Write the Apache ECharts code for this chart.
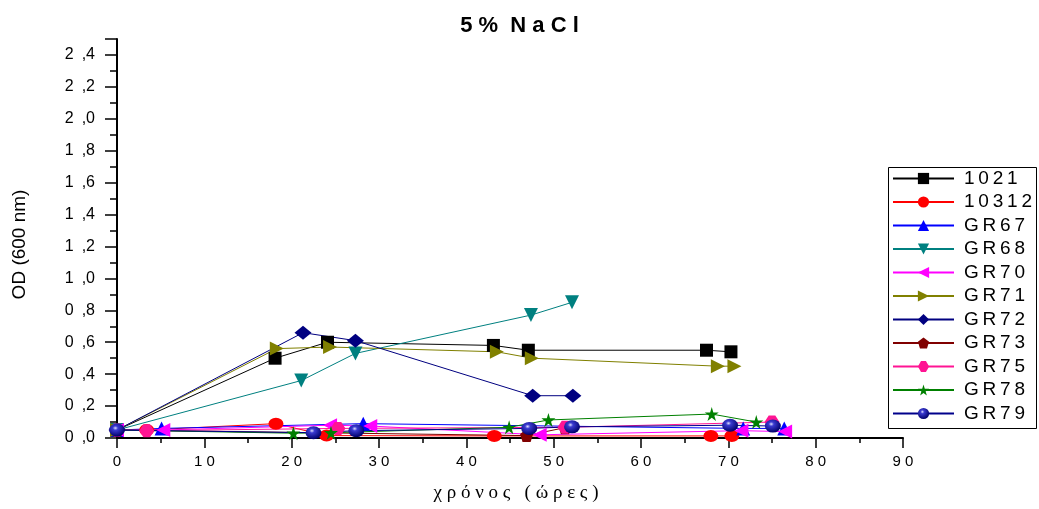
<!DOCTYPE html>
<html>
<head>
<meta charset="utf-8">
<script src="https://cdn.jsdelivr.net/npm/echarts@6/dist/echarts.min.js"></script>
<style>
html,body{margin:0;padding:0;background:#fff;}
#c{width:1039px;height:509px;}
</style>
</head>
<body>
<div id="c"></div>
<script>
// ---- data (time in hours, OD 600 nm) ----
const seriesNames = ['1021','10312','GR67','GR68','GR70','GR71','GR72','GR73','GR75','GR78','GR79'];
const d1021  = [[0,0.05],[18.1,0.50],[24.1,0.60],[43.1,0.58],[47.1,0.55],[67.5,0.55],[70.3,0.54]];
const d10312 = [[0,0.05],[3.4,0.05],[18.2,0.09],[24.0,0.015],[43.2,0.013],[68.0,0.013],[70.4,0.013]];
const dGR67  = [[0,0.05],[5.1,0.06],[28.2,0.09],[71.7,0.06],[76.4,0.06]];
const dGR68  = [[0,0.05],[21.1,0.36],[27.3,0.53],[47.4,0.77],[52.1,0.85]];
const dGR70  = [[0,0.05],[5.3,0.05],[24.4,0.08],[29.0,0.075],[48.4,0.02],[71.5,0.046],[76.5,0.04]];
const dGR71  = [[0,0.05],[18.3,0.56],[24.4,0.57],[43.5,0.54],[47.5,0.50],[68.8,0.45],[70.7,0.45]];
const dGR72  = [[0,0.05],[21.3,0.66],[27.3,0.61],[47.6,0.265],[52.2,0.265]];
const dGR73  = [[0,0.05],[46.9,0.015],[51.3,0.065]];
const dGR75  = [[0,0.05],[3.4,0.046],[25.3,0.06],[51.3,0.067],[75.0,0.10]];
const dGR78  = [[0,0.05],[20.2,0.03],[24.5,0.033],[44.9,0.067],[49.4,0.113],[68.1,0.15],[73.2,0.10]];
const dGR79  = [[0,0.05],[22.5,0.033],[27.4,0.046],[47.2,0.06],[52.1,0.07],[70.2,0.08],[75.1,0.075]];
const seriesData = [d1021,d10312,dGR67,dGR68,dGR70,dGR71,dGR72,dGR73,dGR75,dGR78,dGR79];

const titleText = '5% NaCl';
const xName = 'χρόνος (ώρες)';
const yName = 'OD (600 nm)';

// ---- styles ----
const FONT = '"Liberation Sans", Arial, sans-serif';
const spaced = s => String(s).split('').join(' ');
const thin = s => String(s).split('').join('\u2009');
const star = 'path://M50,0 L61,35 L98,35 L68,57 L79,91 L50,70 L21,91 L32,57 L2,35 L39,35 Z';
const pentagon = 'path://M50,0 L98,36 L80,95 L20,95 L2,36 Z';
const hexagon = 'path://M28,0 L72,0 L100,50 L72,100 L28,100 L0,50 Z';
const sphere = {type:'radial', x:0.4, y:0.35, r:0.65, colorStops:[
  {offset:0, color:'#e0e0ff'},{offset:0.25, color:'#3a3ad0'},{offset:1, color:'#00006a'}]};

const styles = [
  {color:'#000000', line:'#000000', symbol:'rect', size:13, rot:0},
  {color:'#ff0000', line:'#ff0000', symbol:'circle', size:[15,12], rot:0},
  {color:'#0000ff', line:'#0000ff', symbol:'triangle', size:14, rot:0},
  {color:'#008080', line:'#008080', symbol:'triangle', size:14, rot:180},
  {color:'#ff00ff', line:'#ff00ff', symbol:'triangle', size:14, rot:90},
  {color:'#808000', line:'#808000', symbol:'triangle', size:14, rot:-90},
  {color:'#000080', line:'#000080', symbol:'diamond', size:[17,14], rot:0},
  {color:'#800000', line:'#800000', symbol:pentagon, size:13, rot:0},
  {color:'#ff1493', line:'#ff1493', symbol:hexagon, size:[15,13], rot:0},
  {color:'#008000', line:'#008000', symbol:star, size:14, rot:0},
  {color:sphere, line:'#00008b', symbol:'circle', size:[16,13], rot:0}
];

const series = seriesNames.map((n,i)=>({
  name:n, type:'line', data:seriesData[i],
  symbol:styles[i].symbol, symbolSize:styles[i].size, symbolRotate:styles[i].rot,
  showAllSymbol:true, animation:false,
  lineStyle:{color:styles[i].line, width:1},
  itemStyle:{color:styles[i].color, borderWidth:0},
  emphasis:{disabled:true}
}));

const chart = echarts.init(document.getElementById('c'), null, {renderer:'canvas'});
chart.setOption({
  backgroundColor:'#fff',
  animation:false,
  title:{text:'5 %  N a C l', left:'center', top:10,
    textStyle:{fontFamily:FONT, fontSize:22, fontWeight:'bold', color:'#000'}},
  grid:{left:117, right:136, top:39, bottom:71, containLabel:false},
  xAxis:{type:'value', min:0, max:90, interval:10,
    name:spaced(xName), nameLocation:'middle', nameGap:46,
    nameTextStyle:{fontFamily:'"Liberation Serif","Times New Roman",serif', fontSize:19, color:'#000', padding:[0,0,0,12]},
    axisLine:{show:true, onZero:false, lineStyle:{color:'#000', width:2}},
    axisTick:{show:true, inside:false, length:10, lineStyle:{color:'#000', width:1.5}},
    minorTick:{show:true, splitNumber:2, length:5, lineStyle:{color:'#000', width:1.5}},
    splitLine:{show:false},
    axisLabel:{margin:16, fontFamily:FONT, fontSize:15, color:'#000', formatter:v=>spaced(v)}},
  yAxis:{type:'value', min:0, max:2.5, interval:0.2,
    name:yName, nameLocation:'middle', nameGap:88, nameRotate:90,
    nameTextStyle:{fontFamily:FONT, fontSize:19, color:'#000', padding:[0,12,0,0]},
    axisLine:{show:true, onZero:false, lineStyle:{color:'#000', width:2}},
    axisTick:{show:true, inside:false, length:12, lineStyle:{color:'#000', width:1.5}},
    minorTick:{show:true, splitNumber:2, length:7, lineStyle:{color:'#000', width:1.5}},
    splitLine:{show:false},
    axisLabel:{margin:22, showMaxLabel:false, fontFamily:FONT, fontSize:16, color:'#000',
      formatter:v=> (Math.abs(v-2.5)<1e-6 ? '' : v.toFixed(1).replace('.', '\u2002,'))}},
  legend:{orient:'vertical', left:892, top:169, padding:0,
    itemWidth:61, itemHeight:14, itemGap:4.5,
    symbolRotate:'inherit',
    data:seriesNames,
    formatter:n=>thin(n),
    textStyle:{fontFamily:FONT, fontSize:19, color:'#000', padding:[0,0,0,5]}},
  graphic:[{type:'rect', shape:{x:888.5, y:167.5, width:148, height:261},
    style:{fill:null, stroke:'#000', lineWidth:1}, silent:true, z:10}],
  series:series
});
</script>
</body>
</html>
